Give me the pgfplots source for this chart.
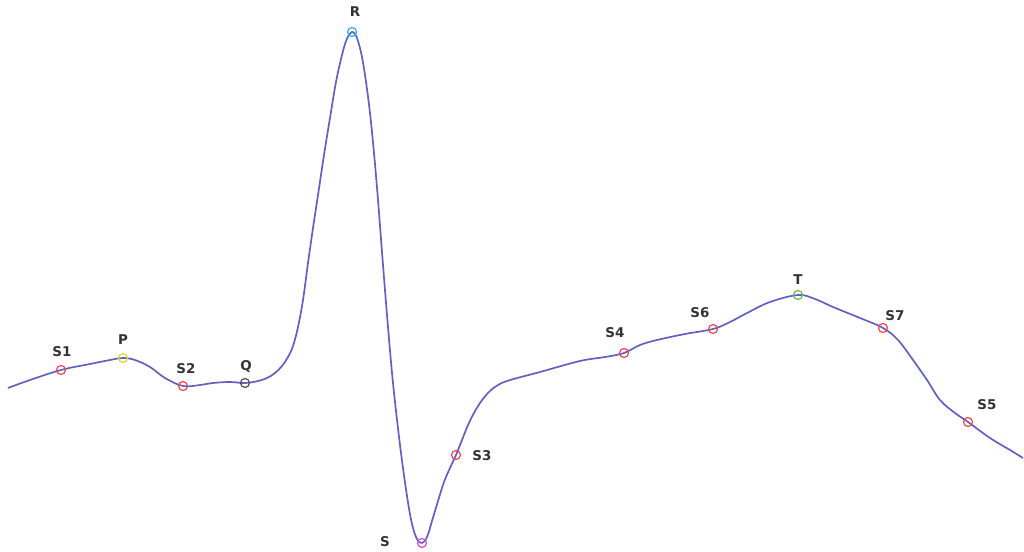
\documentclass[border=0pt]{standalone}
\usepackage{fontspec}
\setmainfont{DejaVu Sans}
\usepackage{pgfplots}
\pgfplotsset{compat=1.18}
\definecolor{ecg}{RGB}{98,98,190}
\definecolor{mred}{RGB}{240,70,80}
\definecolor{myel}{RGB}{225,215,50}
\definecolor{mgray}{RGB}{80,80,80}
\definecolor{mcyan}{RGB}{50,170,220}
\definecolor{mmag}{RGB}{215,80,200}
\definecolor{mgreen}{RGB}{100,190,80}
\tikzset{lbl/.style={font=\fontsize{13.5}{16}\selectfont\bfseries,text=black!80,inner sep=0pt}}
\begin{document}
\begin{tikzpicture}
\begin{axis}[width=1024bp,height=551bp,scale only axis,xmin=0,xmax=1024,ymin=-551,ymax=0,hide axis,clip=false]
% keep the full frame in the bounding box
\path (axis cs:0,-551) rectangle (axis cs:1024,0);
% waveform, pixel coordinates (y negated)
\addplot[ecg,line width=1.7bp,smooth,tension=0.6] coordinates {
(8,-388) (30,-380) (61,-370) (90,-364) (110,-360) (123,-358) (135,-360) (150,-367) (165,-378) (183,-386)
(200,-385) (213,-383) (230,-382) (245,-383) (258,-381) (267,-378) (275,-373) (282,-366) (288,-357) (293,-346)
(298,-327) (303,-300) (308,-263) (313,-228) (318,-195) (324,-155) (330,-118) (336,-82) (342,-55) (346,-41)
(349,-35) (352,-32) (355,-34) (358,-41) (362,-57) (366,-82) (370,-113) (374,-153) (378,-200) (383,-265)
(388,-327) (393,-383) (400,-445) (407,-496) (412,-524) (417,-539) (422,-543) (427,-537) (432,-521) (438,-501)
(444,-482) (450,-468) (456,-455) (462,-440) (468,-425) (474,-413) (480,-403) (487,-394) (495,-387) (507,-381)
(540,-372) (580,-361) (605,-357) (624,-353) (640,-345) (657,-340) (685,-334) (713,-329) (730,-322) (747,-313)
(770,-302) (798,-295) (815,-299) (833,-307) (860,-318) (883,-328) (898,-340) (913,-360) (927,-380) (940,-400)
(955,-413) (968,-422) (990,-438) (1010,-450) (1023,-458)};
% fiducial points
\addplot[only marks,mark=o,mark size=4.5bp,mark options={draw=mred,line width=1.2bp}] coordinates {
(61,-370) (183,-386) (456,-455) (624,-353) (968,-422) (713,-329) (883,-328)};
\addplot[only marks,mark=o,mark size=4.5bp,mark options={draw=myel,line width=1.2bp}] coordinates {(123,-358)};
\addplot[only marks,mark=o,mark size=4.5bp,mark options={draw=mgray,line width=1.2bp}] coordinates {(245,-383)};
\addplot[only marks,mark=o,mark size=4.5bp,mark options={draw=mcyan,line width=1.2bp}] coordinates {(352,-32)};
\addplot[only marks,mark=o,mark size=4.5bp,mark options={draw=mmag,line width=1.2bp}] coordinates {(422,-543)};
\addplot[only marks,mark=o,mark size=4.5bp,mark options={draw=mgreen,line width=1.2bp}] coordinates {(798,-295)};
% labels
\node[lbl] at (axis cs:62,-352) {S1};
\node[lbl] at (axis cs:123,-340) {P};
\node[lbl] at (axis cs:186,-369) {S2};
\node[lbl] at (axis cs:246,-366) {Q};
\node[lbl] at (axis cs:355,-12) {R};
\node[lbl] at (axis cs:385,-542) {S};
\node[lbl] at (axis cs:482,-456) {S3};
\node[lbl] at (axis cs:615,-333) {S4};
\node[lbl] at (axis cs:700,-313) {S6};
\node[lbl] at (axis cs:798,-280) {T};
\node[lbl] at (axis cs:895,-316) {S7};
\node[lbl] at (axis cs:987,-405) {S5};
\end{axis}
\end{tikzpicture}
\end{document}
